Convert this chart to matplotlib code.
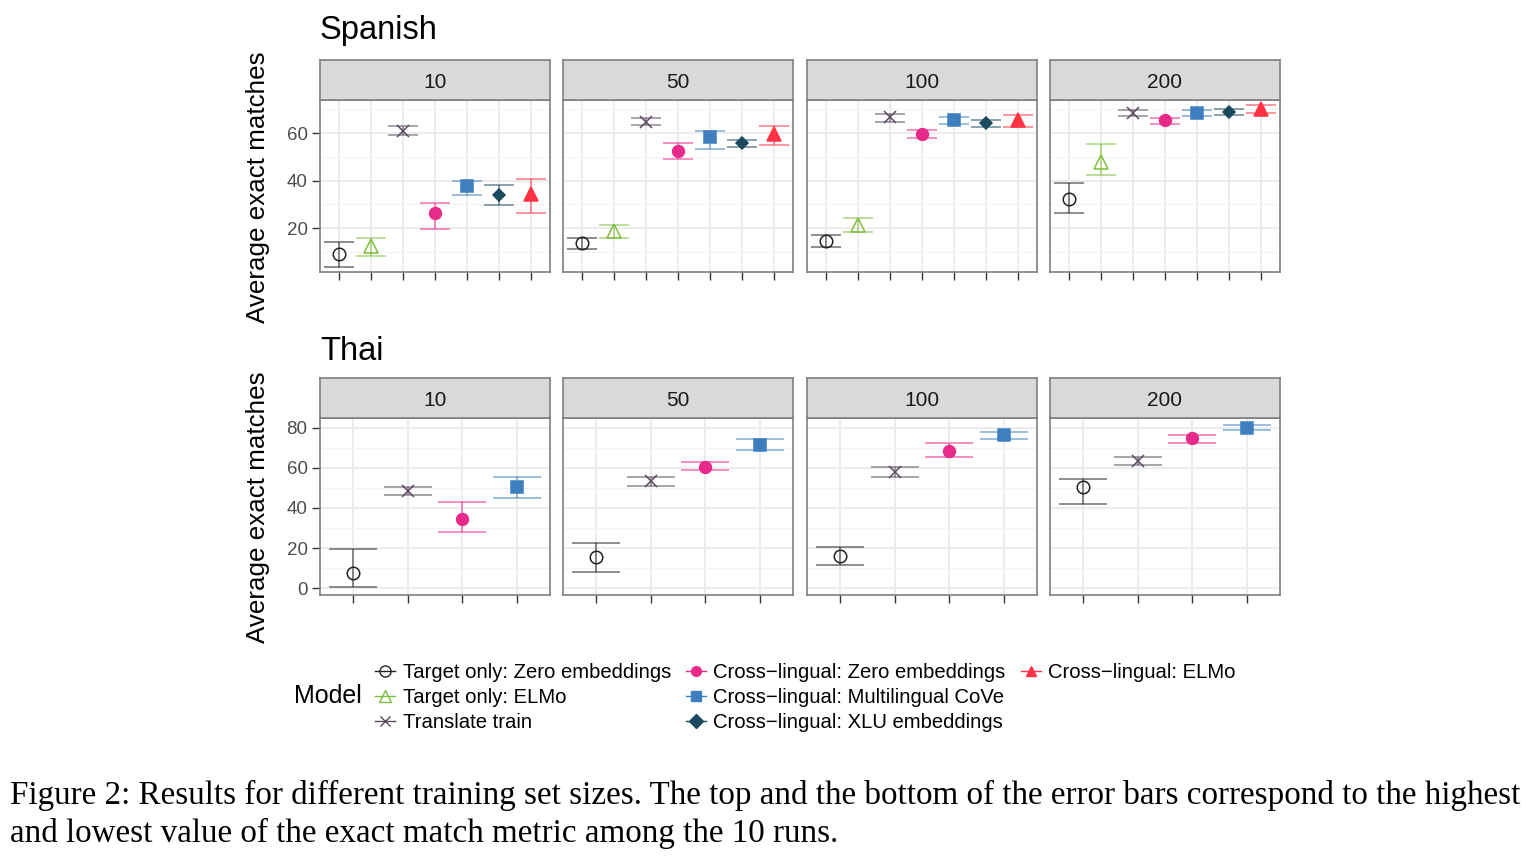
import numpy as np
import matplotlib
matplotlib.use("Agg")
import matplotlib.pyplot as plt
from matplotlib.lines import Line2D

plt.rcParams['font.family'] = ['Liberation Sans', 'DejaVu Sans']

# Datos
tamanos = ["10", "50", "100", "200"]
modelos = ["Target only: Zero embeddings", "Target only: ELMo", "Translate train",
           "Cross\u2212lingual: Zero embeddings", "Cross\u2212lingual: Multilingual CoVe",
           "Cross\u2212lingual: XLU embeddings", "Cross\u2212lingual: ELMo"]

# Spanish: media, maximo, minimo por tamano (orden de modelos)
es_media = [
    [9.3, 12.6, 60.9, 26.2, 37.9, 33.9, 34.4],
    [13.6, 19.0, 64.7, 52.3, 58.3, 55.8, 59.7],
    [14.7, 21.5, 66.7, 59.4, 65.4, 64.1, 65.7],
    [32.2, 47.8, 68.6, 65.3, 68.4, 69.0, 70.1],
]
es_max = [
    [14.4, 16.1, 63.0, 30.6, 39.7, 38.0, 40.6],
    [15.7, 21.5, 66.4, 55.7, 60.7, 57.1, 62.8],
    [17.3, 24.2, 68.1, 61.1, 66.8, 65.7, 67.8],
    [39.0, 55.3, 69.9, 66.4, 69.8, 70.1, 71.6],
]
es_min = [
    [3.7, 8.3, 59.0, 19.7, 33.9, 29.7, 26.4],
    [11.3, 16.1, 63.3, 48.9, 53.4, 54.1, 55.0],
    [11.9, 18.3, 64.7, 57.9, 63.9, 62.6, 62.4],
    [26.6, 42.4, 67.1, 64.0, 67.0, 67.5, 68.6],
]

# Thai: solo 4 modelos (indices 0, 2, 3, 4)
th_modelos = [0, 2, 3, 4]
th_media = [
    [7.8, 48.6, 34.5, 50.3],
    [15.3, 53.6, 60.5, 71.2],
    [15.8, 57.8, 68.2, 76.2],
    [50.3, 63.3, 74.7, 79.7],
]
th_max = [
    [19.6, 50.5, 42.8, 55.6],
    [22.5, 55.6, 62.8, 74.2],
    [20.6, 60.6, 72.3, 77.8],
    [54.3, 65.3, 76.5, 81.3],
]
th_min = [
    [0.5, 46.6, 27.8, 45.1],
    [8.3, 51.0, 59.0, 68.7],
    [11.6, 55.5, 65.3, 74.3],
    [42.0, 61.2, 72.5, 78.8],
]

colores = ["#222222", "#7FBF3F", "#5A4A5E", "#E7298A", "#3F7FBF", "#1B4A5E", "#FF3344"]
marcadores = ["o", "^", "x", "o", "s", "D", "^"]
rellenos = ["none", "none", None, "full", "full", "full", "full"]
tam_marc = [9, 10, 9, 8.5, 8, 6.5, 10]

W, H = 1527, 858
fig = plt.figure(figsize=(W / 100, H / 100), dpi=100)


def caja(x0, y0, w, h):
    return [x0 / W, 1 - (y0 + h) / H, w / W, h / H]


def dibujar_panel(x0, y0, h, medias, maximos, minimos, idx_modelos, ylim, yticks, minor, cap, mostrar_y, etiqueta):
    ax = fig.add_axes(caja(x0, y0, 230, h))
    n = len(idx_modelos)
    ax.set_xlim(0.4, n + 0.6)
    ax.set_ylim(*ylim)
    for j in range(n):
        m = idx_modelos[j]
        c = colores[m]
        lo = medias[j] - minimos[j]
        hi = maximos[j] - medias[j]
        ax.errorbar([j + 1], [medias[j]], yerr=[[lo], [hi]], fmt="none", ecolor=c,
                    elinewidth=1.2, capsize=cap, capthick=1.2, alpha=0.6, zorder=3)
        if rellenos[m] == "none":
            ax.plot(j + 1, medias[j], marker=marcadores[m], markersize=tam_marc[m],
                    markerfacecolor="none", markeredgecolor=c, markeredgewidth=1.1, zorder=4)
        else:
            ax.plot(j + 1, medias[j], marker=marcadores[m], markersize=tam_marc[m],
                    color=c, markeredgewidth=1.1, zorder=4)
    ax.set_xticks(range(1, n + 1))
    ax.set_xticklabels([])
    ax.set_yticks(yticks)
    ax.set_yticks(minor, minor=True)
    ax.grid(True, which="major", color="#EBEBEB", linewidth=1.3, zorder=0)
    ax.grid(True, which="minor", axis="y", color="#F3F3F3", linewidth=0.8, zorder=0)
    ax.set_axisbelow(True)
    ax.tick_params(axis="x", length=6, width=1, color="#333333", direction="out")
    ax.tick_params(axis="y", length=6 if mostrar_y else 0, width=1, color="#333333",
                   labelsize=13.5, labelcolor="#4D4D4D", pad=3)
    ax.tick_params(axis="y", which="minor", length=0)
    if not mostrar_y:
        ax.set_yticklabels([])
    for s in ax.spines.values():
        s.set_color("#7F7F7F")
        s.set_linewidth(1.2)
    # tira del encabezado
    st = fig.add_axes(caja(x0, y0 - 40, 230, 40))
    st.set_facecolor("#D9D9D9")
    st.set_xticks([])
    st.set_yticks([])
    for s in st.spines.values():
        s.set_color("#7F7F7F")
        s.set_linewidth(1.2)
    st.text(0.5, 0.5, etiqueta, ha="center", va="center_baseline", fontsize=15, color="#1A1A1A",
            transform=st.transAxes)
    return ax


xs = [320, 563, 807, 1050]
for i in range(4):
    dibujar_panel(xs[i], 100, 172, es_media[i], es_max[i], es_min[i], list(range(7)),
                  (1.6, 73.9), [20, 40, 60], [10, 30, 50, 70], 11, i == 0, tamanos[i])
    dibujar_panel(xs[i], 418, 177, th_media[i], th_max[i], th_min[i], th_modelos,
                  (-3.4, 84.8), [0, 20, 40, 60, 80], [10, 30, 50, 70], 17, i == 0, tamanos[i])

fig.text(320 / W, 1 - 31 / H, "Spanish", fontsize=23.5, va="center", ha="left")
fig.text(320 / W, 1 - 352 / H, "Thai", fontsize=23.5, va="center", ha="left")
fig.text(258 / W, 1 - 187 / H, "Average exact matches", rotation=90, fontsize=18.7,
         va="center", ha="center")
fig.text(258 / W, 1 - 507 / H, "Average exact matches", rotation=90, fontsize=18.7,
         va="center", ha="center")

# Leyenda
manijas = []
for m in range(7):
    if rellenos[m] == "none":
        h = Line2D([], [], color=colores[m], marker=marcadores[m], markersize=8,
                   markerfacecolor="none", linewidth=1, alpha=1)
    else:
        h = Line2D([], [], color=colores[m], marker=marcadores[m], markersize=7, linewidth=1)
    manijas.append(h)
vacio = Line2D([], [], alpha=0)
orden = [manijas[0], manijas[1], manijas[2], manijas[3], manijas[4], manijas[5],
         manijas[6], vacio, vacio]
etiquetas = [modelos[0], modelos[1], modelos[2], modelos[3], modelos[4], modelos[5],
             modelos[6], "", ""]
fig.legend(orden, etiquetas, ncol=3, loc="upper left", bbox_to_anchor=(365 / W, 1 - 653 / H),
           frameon=False, fontsize=14.6, handlelength=1.0, handletextpad=0.35,
           columnspacing=0.75, labelspacing=0.3, borderpad=0)
fig.text(294 / W, 1 - 696 / H, "Model", fontsize=18, va="center", ha="left")

# Pie de figura
fig.text(10 / W, 1 - 795 / H,
         "Figure 2: Results for different training set sizes. The top and the bottom of the error bars correspond to the highest",
         fontsize=23.85, family="Liberation Serif", va="center", ha="left")
fig.text(10 / W, 1 - 833 / H,
         "and lowest value of the exact match metric among the 10 runs.",
         fontsize=23.85, family="Liberation Serif", va="center", ha="left")

fig.savefig("out.png", dpi=100)
